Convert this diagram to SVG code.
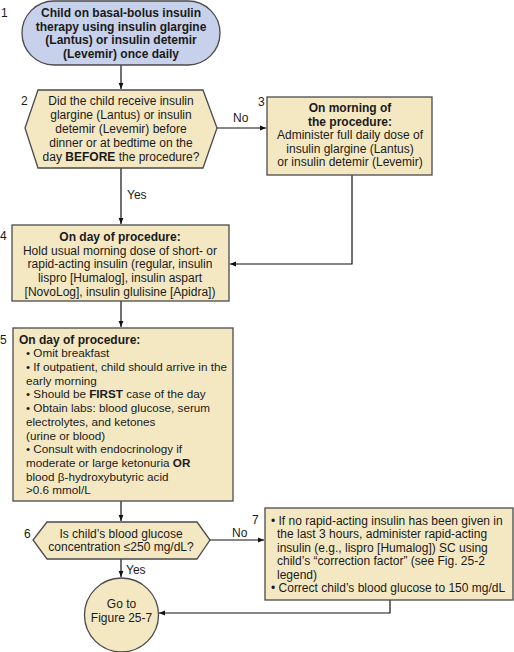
<svg xmlns="http://www.w3.org/2000/svg" width="514" height="652" viewBox="0 0 514 652">
<defs>
<style>
text{font-family:"Liberation Sans",Arial,sans-serif;font-size:12px;fill:#1a1a1a}
.c{text-anchor:middle}
.b{font-weight:bold}
.n{font-size:12px}
.s{font-size:11.7px}
.box{fill:#f4e8c3;stroke:#4a4a4a;stroke-width:1.3}
.blue{fill:#c7d1eb;stroke:#4a4a4a;stroke-width:1.3}
.ln{fill:none;stroke:#111;stroke-width:1.2}
</style>
<marker id="ah" viewBox="0 0 10 10" refX="10" refY="5" markerWidth="7" markerHeight="6" markerUnits="userSpaceOnUse" orient="auto">
<path d="M0,1 L10,5 L0,9 Z" fill="#111"/>
</marker>
</defs>
<rect width="514" height="652" fill="#fff"/>
<g id="connectors">
<line class="ln" x1="121" y1="65" x2="121" y2="89" marker-end="url(#ah)"/>
<line class="ln" x1="217" y1="128" x2="266" y2="128" marker-end="url(#ah)"/>
<text x="233" y="122">No</text>
<line class="ln" x1="121" y1="168" x2="121" y2="224" marker-end="url(#ah)"/>
<text x="127" y="199">Yes</text>
<polyline class="ln" points="352,175 352,264 230,264" marker-end="url(#ah)"/>
<line class="ln" x1="121" y1="301" x2="121" y2="327" marker-end="url(#ah)"/>
<line class="ln" x1="121" y1="501" x2="121" y2="521" marker-end="url(#ah)"/>
<line class="ln" x1="210" y1="540" x2="264" y2="540" marker-end="url(#ah)"/>
<text x="232" y="537">No</text>
<line class="ln" x1="121" y1="559" x2="121" y2="577" marker-end="url(#ah)"/>
<text x="126" y="574">Yes</text>
<polyline class="ln" points="390,600 390,613 159,613" marker-end="url(#ah)"/>
</g>
<g id="node1">
<rect class="blue" x="22" y="1" width="198" height="64" rx="32" ry="32"/>
<text x="1" y="17" class="n">1</text>
<text class="c b" x="121" y="17">Child on basal-bolus insulin</text>
<text class="c b" x="121" y="30.5">therapy using insulin glargine</text>
<text class="c b" x="121" y="44">(Lantus) or insulin detemir</text>
<text class="c b" x="121" y="57.5">(Levemir) once daily</text>
</g>
<g id="node2">
<polygon class="box" points="38,90 203,90 217,128 203,168 38,168 25,128"/>
<text x="21" y="105" class="n">2</text>
<text class="c" x="121" y="104.5">Did the child receive insulin</text>
<text class="c" x="121" y="118.5">glargine (Lantus) or insulin</text>
<text class="c" x="121" y="132.5">detemir (Levemir) before</text>
<text class="c" x="121" y="146.5">dinner or at bedtime on the</text>
<text class="c" x="121" y="160.5">day <tspan class="b">BEFORE</tspan> the procedure?</text>
</g>
<g id="node3">
<rect class="box" x="267" y="97" width="165" height="78"/>
<text x="258" y="106" class="n">3</text>
<text class="c b" x="350" y="112">On morning of</text>
<text class="c b" x="350" y="125.5">the procedure:</text>
<text class="c" x="350" y="139">Administer full daily dose of</text>
<text class="c" x="350" y="152.5">insulin glargine (Lantus)</text>
<text class="c" x="350" y="166">or insulin detemir (Levemir)</text>
</g>
<g id="node4">
<rect class="box" x="12" y="225" width="217" height="76"/>
<text x="0" y="240" class="n">4</text>
<text class="c b" x="120" y="240.5">On day of procedure:</text>
<text class="c" x="120" y="254.5">Hold usual morning dose of short- or</text>
<text class="c" x="120" y="268">rapid-acting insulin (regular, insulin</text>
<text class="c" x="120" y="282">lispro [Humalog], insulin aspart</text>
<text class="c" x="120" y="296">[NovoLog], insulin glulisine [Apidra])</text>
</g>
<g id="node5">
<rect class="box" x="13" y="328" width="220" height="173"/>
<text x="0" y="343.5" class="n">5</text>
<text class="b" x="19" y="343.5">On day of procedure:</text>
<text class="s" x="26" y="357">• Omit breakfast</text>
<text class="s" x="26" y="370.5">• If outpatient, child should arrive in the</text>
<text class="s" x="26" y="384.5">early morning</text>
<text class="s" x="26" y="398">• Should be <tspan class="b">FIRST</tspan> case of the day</text>
<text class="s" x="26" y="412">• Obtain labs: blood glucose, serum</text>
<text class="s" x="26" y="425.5">electrolytes, and ketones</text>
<text class="s" x="26" y="439.5">(urine or blood)</text>
<text class="s" x="26" y="453">• Consult with endocrinology if</text>
<text class="s" x="26" y="467">moderate or large ketonuria <tspan class="b">OR</tspan></text>
<text class="s" x="26" y="480.5">blood β-hydroxybutyric acid</text>
<text class="s" x="26" y="494">&gt;0.6 mmol/L</text>
</g>
<g id="node6">
<polygon class="box" points="47,522 197,522 210,540 197,559 47,559 33,540"/>
<text x="24" y="537.5" class="n">6</text>
<text class="c" x="121" y="537.5">Is child’s blood glucose</text>
<text class="c" x="121" y="551">concentration ≤250 mg/dL?</text>
</g>
<g id="node7">
<rect class="box" x="265" y="508" width="248" height="92"/>
<text x="252" y="524" class="n">7</text>
<text x="271" y="524.5">• If no rapid-acting insulin has been given in</text>
<text x="277" y="538">the last 3 hours, administer rapid-acting</text>
<text x="277" y="551.5">insulin (e.g., lispro [Humalog]) SC using</text>
<text x="277" y="565">child’s “correction factor” (see Fig. 25-2</text>
<text x="277" y="578.5">legend)</text>
<text x="271" y="592">• Correct child’s blood glucose to 150 mg/dL</text>
</g>
<g id="node8">
<circle class="box" cx="121.5" cy="615" r="37"/>
<text class="c" x="121.5" y="608">Go to</text>
<text class="c" x="121.5" y="621.5">Figure 25-7</text>
</g>
</svg>
